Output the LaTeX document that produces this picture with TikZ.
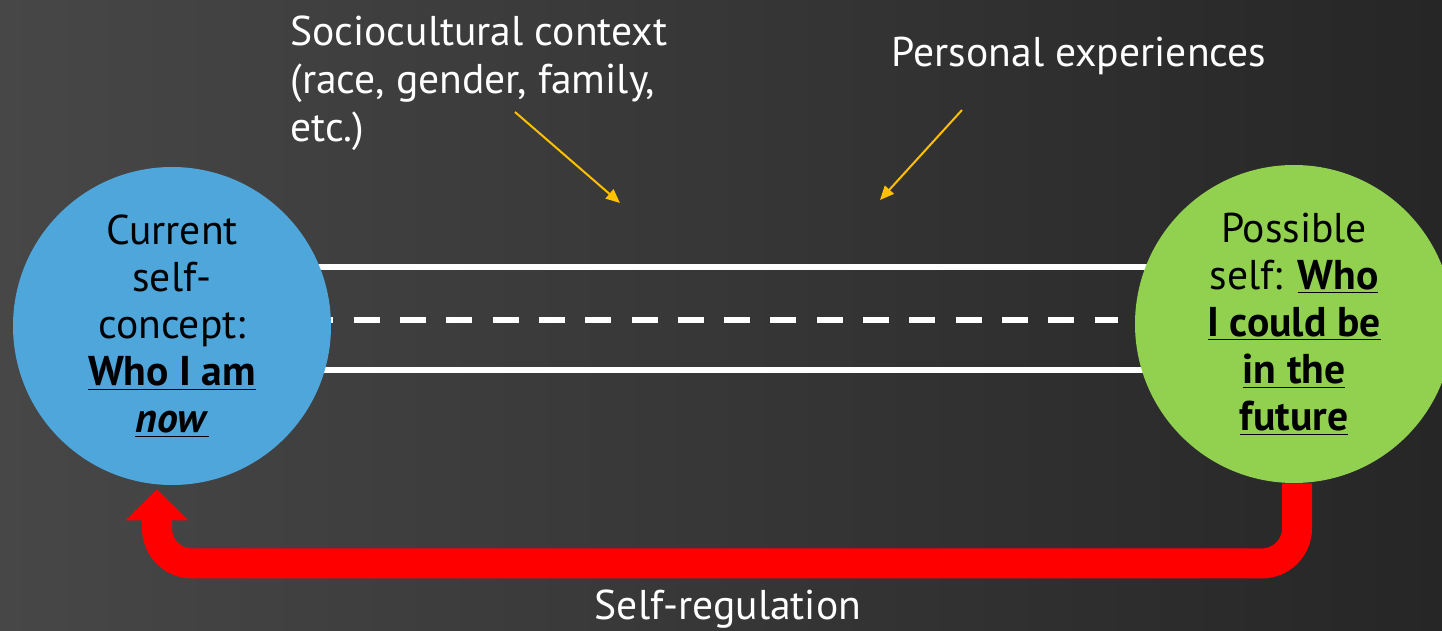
\documentclass[tikz,border=0pt]{standalone}
\usepackage{fontspec}
\setmainfont{PT Sans}
\usetikzlibrary{arrows.meta,positioning,backgrounds}

\definecolor{bgleft}{HTML}{474747}
\definecolor{bgright}{HTML}{262626}
\definecolor{nowblue}{HTML}{4EA6DB}
\definecolor{futgreen}{HTML}{92D050}
\definecolor{ctxyellow}{HTML}{FFC000}
\newcommand{\ulbf}[1]{\underline{\textbf{#1}}}

\begin{document}
\begin{tikzpicture}[x=0.5pt, y=-0.5pt,
  self/.style={circle, minimum size=159pt, inner sep=0pt, align=center, text=black, font=\fontsize{20.8}{23.6}\selectfont},
  label/.style={text=white, inner sep=0pt, font=\fontsize{20.8}{24}\selectfont},
  road/.style={white, line width=2.8pt},
  arr/.style={-{Triangle[length=7pt, width=6pt]}, ctxyellow, line width=1pt},
  loop/.style={-{Triangle[length=15.5pt, width=30.5pt]}, red, line width=15pt, rounded corners=17.5pt}]
  \useasboundingbox (0,0) rectangle (1442,631);

  \node[self, fill=nowblue] (now) at (172,326) {Current\\self-\\concept:\\\ulbf{Who I am}\\\ulbf{\textit{now}}};
  \node[self, fill=futgreen] (future) at (1294,324) {Possible\\self: \ulbf{Who}\\\ulbf{I could be}\\\ulbf{in the}\\\ulbf{future}};

  \node[label, anchor=north west, align=left] (socio) at (290,15) {Sociocultural context\\(race, gender, family,\\etc.)};
  \node[label] (personal) at (1079,56) {Personal experiences};
  \node[label] (selfreg) at (728,609) {Self-regulation};

  \coordinate (socio out) at (515,112);
  \coordinate (socio tip) at (620,203);
  \coordinate (personal out) at (962,110);
  \coordinate (personal tip) at (880,200);
  \draw[arr] (socio out) -- (socio tip);
  \draw[arr] (personal out) -- (personal tip);

  \begin{scope}[on background layer]
    \shade[left color=bgleft, right color=bgright] (0,0) rectangle (1442,631);
    % the road between the two selves
    \draw[road] (now.center |- 0,267) -- (future.center |- 0,267);
    \draw[road] (now.center |- 0,370) -- (future.center |- 0,370);
    \draw[road, dash pattern=on 13pt off 10.15pt] ([xshift=-12pt]now.east |- 0,320) -- ([xshift=-8.5pt]future.west |- 0,320);
    % feedback back to the current self
    \draw[loop] ([xshift=1.5pt]future.south) -- ++(0,80) -| ([xshift=-7.5pt, yshift=-2pt]now.south);
  \end{scope}
\end{tikzpicture}
\end{document}
